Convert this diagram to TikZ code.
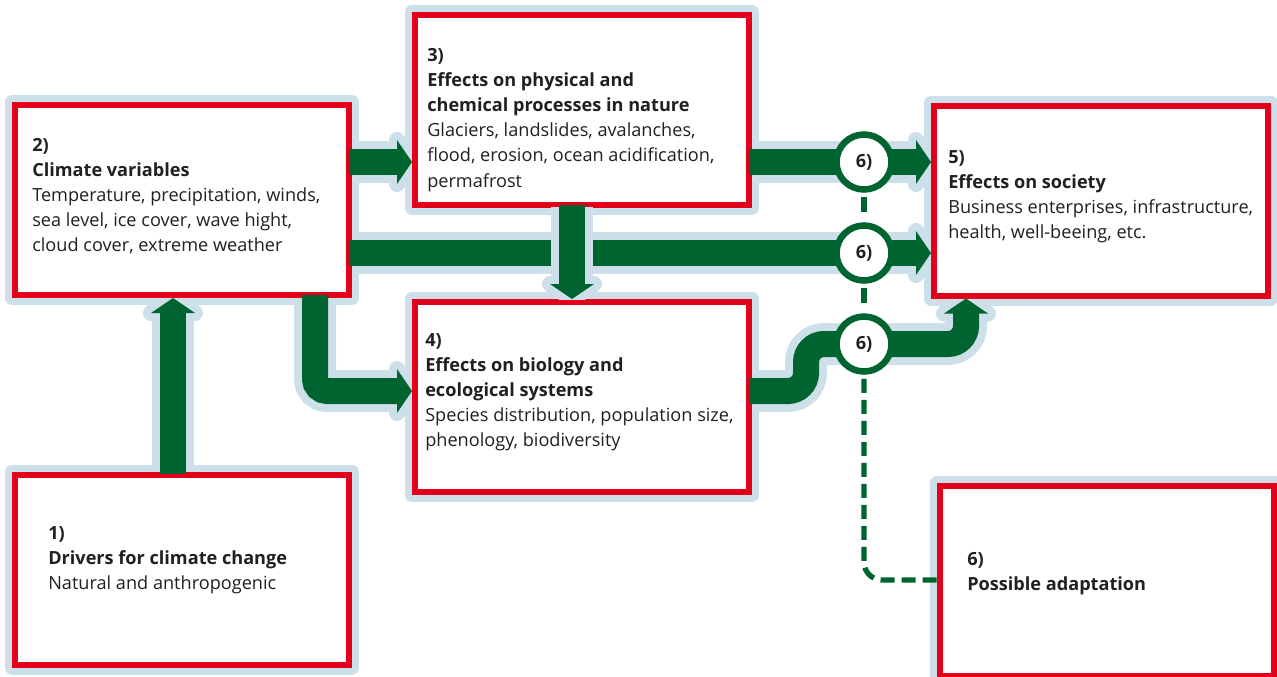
\documentclass[tikz,border=0pt]{standalone}
\usepackage{fontspec}
\setmainfont{Open Sans}
\usetikzlibrary{calc}
\definecolor{hal}{RGB}{205,224,234}
\definecolor{rd}{RGB}{226,0,26}
\definecolor{ag}{RGB}{0,100,48}
\definecolor{tx}{RGB}{35,31,32}
\pgfdeclarelayer{bg}
\pgfdeclarelayer{mid}
\pgfdeclarelayer{fg}
\pgfdeclarelayer{top}
\pgfsetlayers{bg,main,mid,fg,top}
\begin{document}
\begin{tikzpicture}[x=0.75pt,y=-0.75pt,
  box/.style={draw=rd, line width=4.5pt, fill=white, minimum width=250.5pt, minimum height=142.5pt, inner sep=0pt},
  boxhalo/.style={draw=hal, fill=hal, line width=10.5pt, line join=round},
  txt/.style={anchor=base west, inner sep=0pt, text=tx, font=\fontsize{13.6}{18.9}\selectfont},
  haloshaft/.style={draw=hal, line width=31.5pt},
  halohead/.style={draw=hal, fill=hal, line width=12pt, line join=round},
  shaft/.style={draw=ag, line width=19.5pt},
  head/.style={fill=ag},
  circ/.style={circle, draw=ag, line width=4.9pt, fill=white, minimum size=41.25pt, inner sep=0pt, text=tx, font=\bfseries\fontsize{13.6}{15}\selectfont},
  dsh/.style={draw=ag, line width=4pt}
]
\useasboundingbox (0,0) rectangle (1277,676);
% boxes
\node[box] (b1) at (182,569.5) {};
\node[box] (b2) at (182,200) {};
\node[box] (b3) at (582,109.5) {};
\node[box] (b4) at (582,397) {};
\node[box] (b5) at (1101,200.5) {};
\node[box] (b6) at (1107,580.5) {};
% texts
\node[txt] (t1) at (48,539) {\parbox[t]{250pt}{\textbf{1)}\\\textbf{Drivers for climate change}\\Natural and anthropogenic}};
\node[txt] (t2) at (32,151) {\parbox[t]{250pt}{\textbf{2)}\\\textbf{Climate variables}\\Temperature, precipitation, winds,\\sea level, ice cover, wave hight,\\cloud cover, extreme weather}};
\node[txt] (t3) at (427,61) {\parbox[t]{250pt}{\textbf{3)}\\\textbf{Effects on physical and}\\\textbf{chemical processes in nature}\\Glaciers, landslides, avalanches,\\flood, erosion, ocean acidification,\\permafrost}};
\node[txt] (t4) at (425,346) {\parbox[t]{250pt}{\textbf{4)}\\\textbf{Effects on biology and}\\\textbf{ecological systems}\\Species distribution, population size,\\phenology, biodiversity}};
\node[txt] (t5) at (948,163) {\parbox[t]{250pt}{\textbf{5)}\\\textbf{Effects on society}\\Business enterprises, infrastructure,\\health, well-beeing, etc.}};
\node[txt] (t6) at (967,565) {\parbox[t]{250pt}{\textbf{6)}\\\textbf{Possible adaptation}}};
% helper coordinates
\coordinate (v1) at (173,0);
\coordinate (v2) at (572,0);
\coordinate (v3) at (315,0);
\coordinate (v4) at (806,0);
\coordinate (v5) at (966,0);
\coordinate (vd) at (864,0);
\coordinate (h1) at (0,162);
\coordinate (h2) at (0,253);
\coordinate (h3) at (0,391);
\coordinate (h5) at (0,344);
\coordinate (hd) at (0,580);
\coordinate (tip12) at (v1 |- b2.south);
\coordinate (tip23) at (b3.west |- h1);
\coordinate (tip35) at (b5.west |- h1);
\coordinate (tip25) at (b5.west |- h2);
\coordinate (tip34) at (v2 |- b4.north);
\coordinate (tip24) at (b4.west |- h3);
\coordinate (tip45) at (v5 |- b5.south);
% halos
\begin{pgfonlayer}{bg}
  \foreach \b in {b1,b2,b3,b4,b5,b6} \path[boxhalo] (\b.south west) rectangle (\b.north east);
  \path[haloshaft] ($(v1 |- b1.north)+(0,2)$) -- ($(tip12)+(0,14)$);
  \path[halohead] (tip12) -- ++(-22,15) -- ++(44,0) -- cycle;
  \path[haloshaft] ($(b2.east |- h1)+(-3,0)$) -- ($(tip23)+(-14,0)$);
  \path[halohead] (tip23) -- ++(-15,-22) -- ++(0,44) -- cycle;
  \path[haloshaft] ($(b3.east |- h1)+(-3,0)$) -- ($(tip35)+(-14,0)$);
  \path[halohead] (tip35) -- ++(-15,-22) -- ++(0,44) -- cycle;
  \path[haloshaft] ($(b2.east |- h2)+(-3,0)$) -- ($(tip25)+(-14,0)$);
  \path[halohead] (tip25) -- ++(-15,-22) -- ++(0,44) -- cycle;
  \path[haloshaft, rounded corners=9pt] ($(v3 |- b2.south)+(0,-3)$) -- (v3 |- h3) -- ($(tip24)+(-14,0)$);
  \path[halohead] (tip24) -- ++(-15,-22) -- ++(0,44) -- cycle;
  \path[haloshaft, rounded corners=13.5pt] ($(b4.east |- h3)+(-3,0)$) -- (v4 |- h3) -- (v4 |- h5) -- (v5 |- h5) -- ($(tip45)+(0,14)$);
  \path[halohead] (tip45) -- ++(-22,15) -- ++(44,0) -- cycle;
\end{pgfonlayer}
% long arrow (under the vertical one)
\begin{pgfonlayer}{mid}
  \path[shaft] ($(b2.east |- h2)+(-3,0)$) -- ($(tip25)+(-14,0)$);
  \path[head] (tip25) -- ++(-15,-22) -- ++(0,44) -- cycle;
  \begin{scope}
    \clip (b3.south west) rectangle (b4.north east);
    \path[haloshaft] ($(v2 |- b3.south)+(0,-3)$) -- ($(tip34)+(0,-14)$);
    \path[halohead] (tip34) -- ++(-22,-15) -- ++(44,0) -- cycle;
  \end{scope}
\end{pgfonlayer}
% green arrows
\begin{pgfonlayer}{fg}
  \path[shaft] ($(v1 |- b1.north)+(0,2)$) -- ($(tip12)+(0,14)$);
  \path[head] (tip12) -- ++(-22,15) -- ++(44,0) -- cycle;
  \path[shaft] ($(b2.east |- h1)+(-3,0)$) -- ($(tip23)+(-14,0)$);
  \path[head] (tip23) -- ++(-15,-22) -- ++(0,44) -- cycle;
  \path[shaft] ($(b3.east |- h1)+(-3,0)$) -- ($(tip35)+(-14,0)$);
  \path[head] (tip35) -- ++(-15,-22) -- ++(0,44) -- cycle;
  \path[shaft] ($(v2 |- b3.south)+(0,-3)$) -- ($(tip34)+(0,-14)$);
  \path[head] (tip34) -- ++(-22,-15) -- ++(44,0) -- cycle;
  \path[shaft, rounded corners=9pt] ($(v3 |- b2.south)+(0,-3)$) -- (v3 |- h3) -- ($(tip24)+(-14,0)$);
  \path[head] (tip24) -- ++(-15,-22) -- ++(0,44) -- cycle;
  \path[shaft, rounded corners=13.5pt] ($(b4.east |- h3)+(-3,0)$) -- (v4 |- h3) -- (v4 |- h5) -- (v5 |- h5) -- ($(tip45)+(0,14)$);
  \path[head] (tip45) -- ++(-22,15) -- ++(44,0) -- cycle;
\end{pgfonlayer}
% circles and dashed adaptation line
\begin{pgfonlayer}{top}
  \node[circ] (c1) at (vd |- h1) {6)};
  \node[circ] (c2) at (vd |- h2) {6)};
  \node[circ] (c3) at (vd |- h5) {6)};
  \path[dsh, dash pattern=on 11.25pt off 30pt, dash phase=38.25pt] (c1.south) -- (c2.north);
  \path[dsh, dash pattern=on 11.25pt off 30pt, dash phase=38.25pt] (c2.south) -- (c3.north);
  \path[dsh, dash pattern=on 10.5pt off 5.25pt, dash phase=12.75pt, rounded corners=13.5pt] (c3.south) -- (vd |- hd) -- (b6.west |- hd);
\end{pgfonlayer}
\end{tikzpicture}
\end{document}
